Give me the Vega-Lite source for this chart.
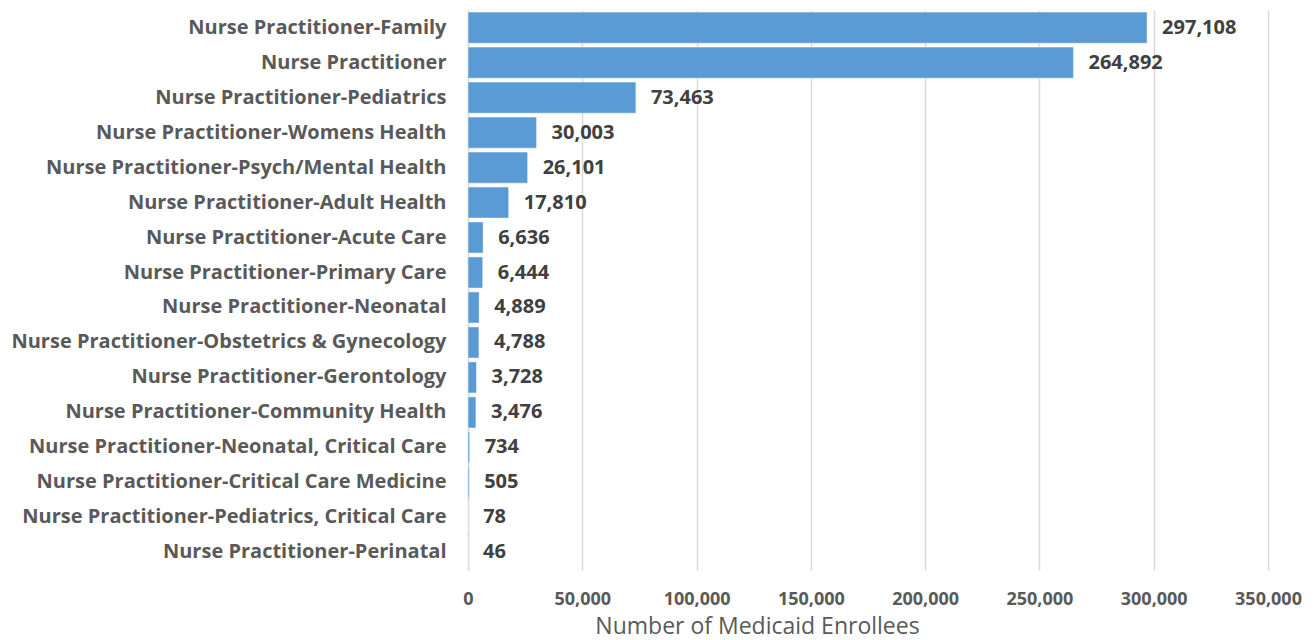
{
  "$schema": "https://vega.github.io/schema/vega-lite/v6.json",
  "width": 800,
  "height": 560,
  "autosize": "none",
  "padding": {"left": 468, "top": 10, "right": 46, "bottom": 70},
  "background": "white",
  "config": {"view": {"stroke": null}, "font": "Open Sans"},
  "data": {"values": [
    {"type": "Nurse Practitioner-Family", "n": 297108},
    {"type": "Nurse Practitioner", "n": 264892},
    {"type": "Nurse Practitioner-Pediatrics", "n": 73463},
    {"type": "Nurse Practitioner-Womens Health", "n": 30003},
    {"type": "Nurse Practitioner-Psych/Mental Health", "n": 26101},
    {"type": "Nurse Practitioner-Adult Health", "n": 17810},
    {"type": "Nurse Practitioner-Acute Care", "n": 6636},
    {"type": "Nurse Practitioner-Primary Care", "n": 6444},
    {"type": "Nurse Practitioner-Neonatal", "n": 4889},
    {"type": "Nurse Practitioner-Obstetrics & Gynecology", "n": 4788},
    {"type": "Nurse Practitioner-Gerontology", "n": 3728},
    {"type": "Nurse Practitioner-Community Health", "n": 3476},
    {"type": "Nurse Practitioner-Neonatal, Critical Care", "n": 734},
    {"type": "Nurse Practitioner-Critical Care Medicine", "n": 505},
    {"type": "Nurse Practitioner-Pediatrics, Critical Care", "n": 78},
    {"type": "Nurse Practitioner-Perinatal", "n": 46}
  ]},
  "encoding": {
    "y": {"field": "type", "type": "nominal", "sort": null,
      "scale": {"paddingInner": 0.11, "paddingOuter": 0.06},
      "axis": {"title": null, "ticks": false, "domainColor": "#d9d9d9", "domainWidth": 1.5,
        "labelFont": "Open Sans", "labelFontSize": 20, "labelFontWeight": "bold", "labelColor": "#595959",
        "labelPadding": 22, "labelLimit": 470}},
    "x": {"field": "n", "type": "quantitative",
      "scale": {"domain": [0, 350000], "nice": false},
      "axis": {"values": [0, 50000, 100000, 150000, 200000, 250000, 300000, 350000],
        "format": ",.0f", "title": "Number of Medicaid Enrollees", "domain": false, "ticks": false,
        "gridColor": "#d9d9d9", "gridWidth": 1.5,
        "labelFont": "Open Sans", "labelFontSize": 18, "labelFontWeight": "bold", "labelColor": "#595959",
        "labelPadding": 20, "labelOverlap": false, "labelFlush": false, "labelBound": false,
        "titleFont": "Open Sans", "titleFontSize": 23, "titleFontWeight": "normal", "titleColor": "#595959",
        "titlePadding": 7, "titleX": 289, "titleAlign": "center"}}
  },
  "layer": [
    {"mark": {"type": "bar", "color": "#5b9bd5", "stroke": "#ffffff", "strokeWidth": 0.5}},
    {"mark": {"type": "text", "align": "left", "dx": 15, "font": "Open Sans", "fontSize": 20, "fontWeight": "bold", "color": "#404040"},
      "encoding": {"text": {"field": "n", "type": "quantitative", "format": ",.0f"}}}
  ]
}
